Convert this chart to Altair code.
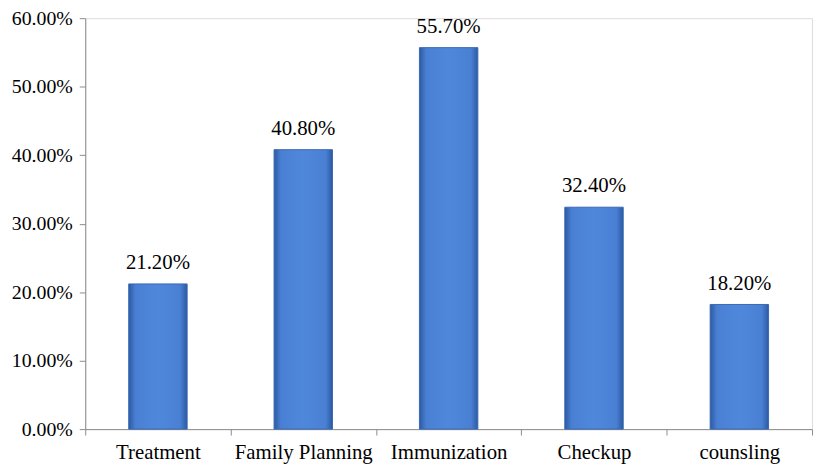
import altair as alt
import pandas as pd

categories = ["Treatment", "Family Planning", "Immunization", "Checkup", "counsling"]
values = [0.212, 0.408, 0.557, 0.324, 0.182]
y_ticks = [0.0, 0.1, 0.2, 0.3, 0.4, 0.5, 0.6]

df = pd.DataFrame({"category": categories, "value": values})

W, H = 734, 415
FONT = "Liberation Serif"
AXIS_COLOR = "#8c8c8c"
FS = 21

grad = alt.Gradient(
    gradient="linear",
    x1=0, x2=1, y1=0, y2=0,
    stops=[
        alt.GradientStop(offset=0.0, color="#2c5aa3"),
        alt.GradientStop(offset=0.12, color="#4a80d4"),
        alt.GradientStop(offset=0.5, color="#4f88db"),
        alt.GradientStop(offset=0.88, color="#4a80d4"),
        alt.GradientStop(offset=1.0, color="#2c5aa3"),
    ],
)

x_enc = alt.X(
    "category:N",
    sort=categories,
    title=None,
    scale=alt.Scale(paddingInner=0, paddingOuter=0),
    axis=alt.Axis(
        labelAngle=0,
        tickBand="extent",
        labelFont=FONT,
        labelFontSize=FS,
        labelColor="#000000",
        labelPadding=7,
        tickSize=6,
        tickColor=AXIS_COLOR,
        domainColor=AXIS_COLOR,
        grid=False,
    ),
)

y_enc = alt.Y(
    "value:Q",
    title=None,
    scale=alt.Scale(domain=[0, 0.6], nice=False),
    axis=alt.Axis(
        values=y_ticks,
        format=".2%",
        labelFont=FONT,
        labelFontSize=20,
        labelColor="#000000",
        labelPadding=7,
        tickSize=6,
        tickColor=AXIS_COLOR,
        domainColor=AXIS_COLOR,
        grid=False,
    ),
)

bars = alt.Chart(df).mark_bar(size=59, color=grad, stroke="#3a68b0", strokeWidth=1).encode(
    x=x_enc, y=y_enc
)

labels = alt.Chart(df).mark_text(
    dy=-11, font=FONT, fontSize=FS, color="#000000", baseline="bottom"
).encode(
    x=alt.X("category:N", sort=categories),
    y="value:Q",
    text=alt.Text("value:Q", format=".2%"),
)

chart = (
    alt.layer(bars, labels)
    .properties(
        width=W,
        height=H,
        autosize=alt.AutoSizeParams(type="none"),
        padding={"left": 78, "top": 8, "right": 4, "bottom": 39},
    )
    .configure_view(stroke=None)
    .configure(background="#ffffff")
)

chart.save("out.html", embed_options={"renderer": "svg", "actions": False})
